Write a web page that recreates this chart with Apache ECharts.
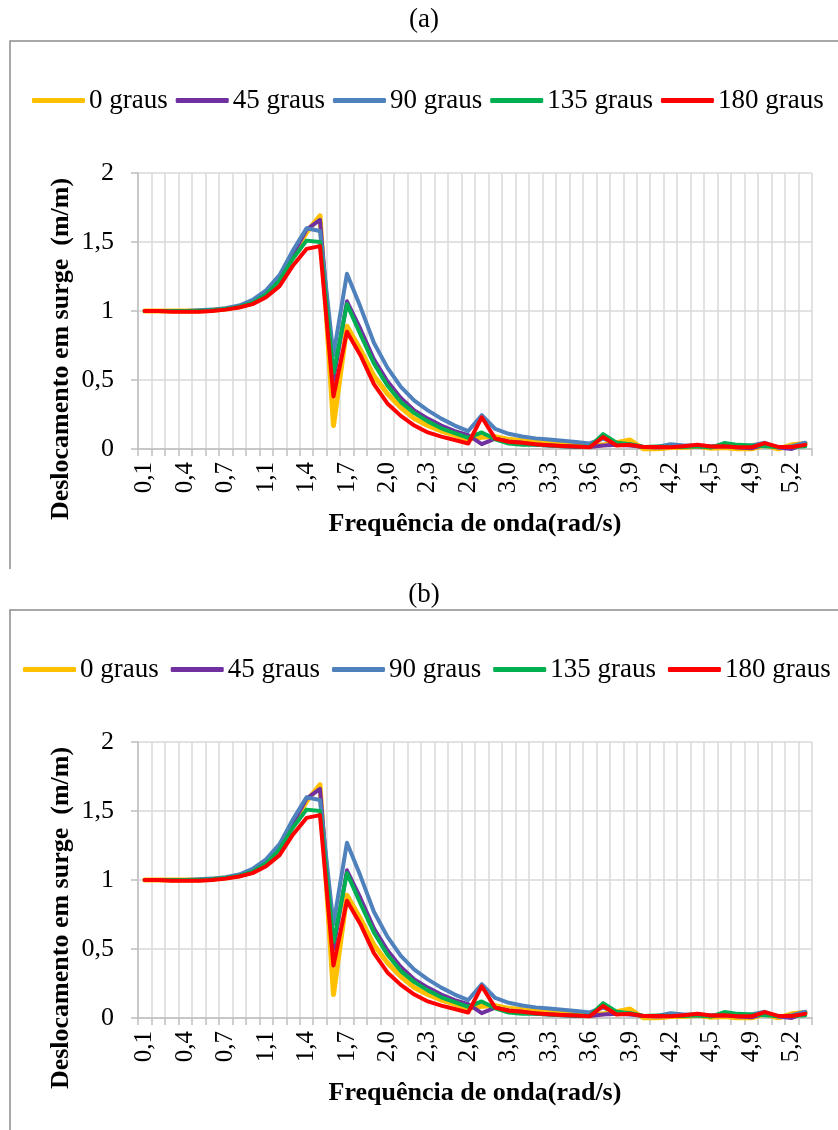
<!DOCTYPE html>
<html>
<head>
<meta charset="utf-8">
<script src="https://cdn.jsdelivr.net/npm/echarts@6/dist/echarts.min.js"></script>
<style>
html,body{margin:0;padding:0;background:#fff;width:838px;height:1130px;overflow:hidden;}
#a{position:absolute;left:0;top:0;width:838px;height:575px;}
#b{position:absolute;left:0;top:569px;width:838px;height:561px;}
</style>
</head>
<body>
<div id="a"></div>
<div id="b"></div>
<script>
const categories = ["0,1","0,2","0,3","0,4","0,5","0,6","0,7","0,8","0,9","1,1",
  "1,2","1,3","1,4","1,5","1,6","1,7","1,8","1,9","2,0","2,1",
  "2,2","2,3","2,4","2,5","2,6","2,7","2,8","3,0","3,1","3,2",
  "3,3","3,4","3,5","3,6","3,7","3,8","3,9","4,0","4,1","4,2",
  "4,3","4,4","4,5","4,6","4,7","4,9","5,0","5,1","5,2","5,3"];

const deg0 = [1.0,1.0,1.0,1.0,1.0,1.005,1.015,1.03,1.06,1.13,
  1.23,1.41,1.57,1.69,0.17,0.89,0.72,0.53,0.40,0.30,
  0.22,0.17,0.13,0.10,0.07,0.085,0.09,0.07,0.06,0.05,
  0.045,0.035,0.03,0.02,0.03,0.045,0.065,0.0,0.0,0.01,
  0.01,0.02,0.005,0.01,0.0,0.0,0.03,0.0,0.03,0.04];
const deg45 = [1.0,1.0,1.0,1.0,1.0,1.005,1.015,1.03,1.06,1.13,
  1.23,1.41,1.59,1.66,0.50,1.07,0.87,0.65,0.49,0.37,
  0.28,0.22,0.17,0.13,0.10,0.035,0.075,0.055,0.045,0.03,
  0.025,0.02,0.015,0.015,0.025,0.03,0.025,0.015,0.01,0.015,
  0.02,0.02,0.015,0.02,0.01,0.005,0.03,0.01,0.0,0.04];
const deg90 = [1.0,1.0,1.0,1.0,1.005,1.01,1.02,1.04,1.08,1.15,
  1.26,1.44,1.60,1.58,0.68,1.27,1.03,0.77,0.59,0.45,
  0.35,0.28,0.22,0.17,0.13,0.245,0.145,0.11,0.09,0.077,
  0.068,0.06,0.05,0.04,0.075,0.04,0.035,0.015,0.015,0.035,
  0.025,0.025,0.02,0.025,0.025,0.025,0.045,0.01,0.02,0.045];
const deg135 = [1.0,1.0,1.0,1.0,1.0,1.005,1.015,1.03,1.06,1.12,
  1.22,1.38,1.51,1.50,0.55,1.05,0.83,0.62,0.46,0.34,
  0.26,0.20,0.15,0.115,0.08,0.12,0.07,0.04,0.03,0.03,
  0.025,0.02,0.018,0.015,0.108,0.045,0.035,0.015,0.018,0.015,
  0.015,0.02,0.01,0.043,0.03,0.025,0.02,0.015,0.015,0.02];
const deg180 = [1.0,1.0,0.995,0.995,0.995,1.0,1.01,1.025,1.05,1.10,
  1.18,1.33,1.45,1.47,0.38,0.85,0.68,0.47,0.33,0.24,
  0.17,0.12,0.09,0.065,0.04,0.23,0.075,0.053,0.045,0.035,
  0.028,0.022,0.018,0.012,0.087,0.025,0.03,0.015,0.015,0.012,
  0.02,0.03,0.018,0.02,0.012,0.012,0.043,0.015,0.015,0.03];

const seriesNames = ["0 graus","45 graus","90 graus","135 graus","180 graus"];
const seriesColors = ["#FFC000","#7030A0","#4F81BD","#00B050","#FF0000"];
const seriesData = [deg0, deg45, deg90, deg135, deg180];
const yTickLabels = {"0":"0","0.5":"0,5","1":"1","1.5":"1,5","2":"2"};

const FONT = "'Liberation Serif','Times New Roman',serif";

function buildOption(cfg) {
  return {
    animation: false,
    backgroundColor: '#fff',
    legend: {
      left: cfg.legendLeft, top: 87, width: 830, padding: 0,
      itemWidth: 53, itemHeight: 5, itemGap: cfg.legendGap,
      icon: 'roundRect',
      textStyle: {fontFamily: FONT, fontSize: 27, color: '#000', padding: [0,0,0,-1]},
      data: seriesNames
    },
    graphic: [
      {type: 'rect', shape: {x: 10, y: 41, width: 840, height: 529},
       style: {fill: 'none', stroke: '#8c8c8c', lineWidth: 1.5}, silent: true, z: -1},
      {type: 'text', x: 424, y: cfg.titleY,
       style: {text: cfg.title, font: "27px " + FONT, fill: '#000', align: 'center', verticalAlign: 'middle'}},
      {type: 'text', x: 61, y: 349, rotation: Math.PI/2,
       style: {text: 'Deslocamento em surge  (m/m)', font: "bold 26px " + FONT,
               fill: '#000', align: 'center', verticalAlign: 'middle'}}
    ],
    grid: {left: 138, right: 26, top: 173, height: 276, containLabel: false},
    xAxis: {
      type: 'category', data: categories, boundaryGap: true,
      name: 'Frequência de onda(rad/s)', nameLocation: 'middle', nameGap: 62,
      nameTextStyle: {fontFamily: FONT, fontSize: 26, fontWeight: 'bold', color: '#000'},
      axisLine: {lineStyle: {color: '#bfbfbf', width: 1.5}},
      axisTick: {show: true, interval: 0, length: 7, lineStyle: {color: '#bfbfbf', width: 1.5}},
      axisLabel: {interval: 2, rotate: 90, margin: 13, fontFamily: FONT, fontSize: 25, color: '#000'},
      splitLine: {show: true, interval: 0, lineStyle: {color: '#d9d9d9', width: 1.5}}
    },
    yAxis: {
      type: 'value', min: 0, max: 2, interval: 0.5,
      axisLine: {show: true, lineStyle: {color: '#bfbfbf', width: 1.5}},
      axisTick: {show: true, length: 7, lineStyle: {color: '#bfbfbf', width: 1.5}},
      axisLabel: {margin: 24, fontFamily: FONT, fontSize: 26, color: '#000',
                  formatter: v => yTickLabels[String(v)] !== undefined ? yTickLabels[String(v)] : String(v).replace('.', ',')},
      splitLine: {show: true, lineStyle: {color: '#d9d9d9', width: 1.5}}
    },
    series: seriesNames.map((n, i) => ({
      name: n, type: 'line', data: seriesData[i], symbol: 'none', showSymbol: false,
      color: seriesColors[i],
      lineStyle: {color: seriesColors[i], width: i === 0 ? 5 : 4, cap: 'round', join: 'round'}
    }))
  };
}

const ca = echarts.init(document.getElementById('a'));
ca.setOption(buildOption({title: '(a)', titleY: 20, legendLeft: 32, legendGap: 8}));
const cb = echarts.init(document.getElementById('b'));
cb.setOption(buildOption({title: '(b)', titleY: 26, legendLeft: 23, legendGap: 12}));
</script>
</body>
</html>
